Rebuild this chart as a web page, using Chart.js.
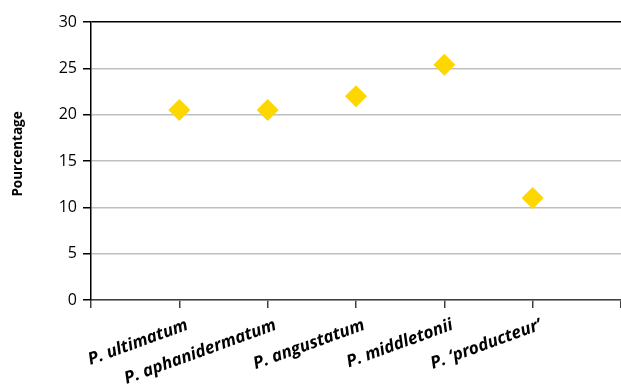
<!DOCTYPE html>
<html><head><meta charset="utf-8">
<script src="https://cdn.jsdelivr.net/npm/chart.js@4"></script>
<style>html,body{margin:0;padding:0;background:#fff}#c{display:block}</style>
</head><body>
<canvas id="c" width="621" height="388"></canvas>
<script>
const categories = ["P. ultimatum", "P. aphanidermatum", "P. angustatum", "P. middletonii", "P. \u2018producteur\u2019"];
const values = [20.5, 20.5, 22, 25.4, 11];
const yTicks = [0, 5, 10, 15, 20, 25, 30];

const points = categories.map((c, i) => ({x: i + 1, y: values[i]}));

new Chart(document.getElementById('c'), {
  type: 'scatter',
  data: { datasets: [{ data: points, pointStyle: 'rectRot', pointRadius: 11, pointHoverRadius: 11,
    backgroundColor: '#FFD700', borderWidth: 0, clip: false }] },
  options: {
    responsive: false, animation: false, events: [],
    layout: { autoPadding: false, padding: { top: 22, right: 0, left: 0, bottom: 0 } },
    plugins: { legend: { display: false }, tooltip: { enabled: false } },
    scales: {
      x: {
        type: 'linear', min: 0, max: categories.length + 1,
        afterBuildTicks: s => { s.ticks = [{value: 0}].concat(categories.map((c, i) => ({value: i + 1})), [{value: categories.length + 1}]); },
        ticks: { autoSkip: false, minRotation: 20, maxRotation: 20, padding: 7, labelOffset: 8, color: '#000',
          font: { family: 'Open Sans', size: 17, weight: 'bold', style: 'italic' },
          callback: v => categories[v - 1] || '' },
        grid: { drawOnChartArea: false, tickLength: 8, color: '#404040', lineWidth: 1.5 },
        border: { color: '#404040', width: 1.5 },
        afterFit: s => { s.height = 88; s.paddingRight = 0; s.paddingLeft = 0; }
      },
      y: {
        min: 0, max: 30,
        afterBuildTicks: s => { s.ticks = yTicks.map(v => ({value: v})); },
        ticks: { padding: 6, color: '#000', font: { family: 'Open Sans', size: 16 } },
        grid: { tickLength: 8, tickColor: '#000', lineWidth: 1.5,
          color: ctx => (ctx.tick && ctx.tick.value === 30) ? '#000' : '#BFBFBF' },
        border: { color: '#000', width: 1.5 },
        title: { display: true, text: '\u00a0\u00a0\u00a0\u00a0Pourcentage', color: '#000', padding: { top: 10, bottom: 0 },
          font: { family: 'Open Sans', size: 13.5, weight: 'bold' } },
        afterFit: s => { s.width = 91; }
      }
    }
  }
});
</script>
</body></html>
